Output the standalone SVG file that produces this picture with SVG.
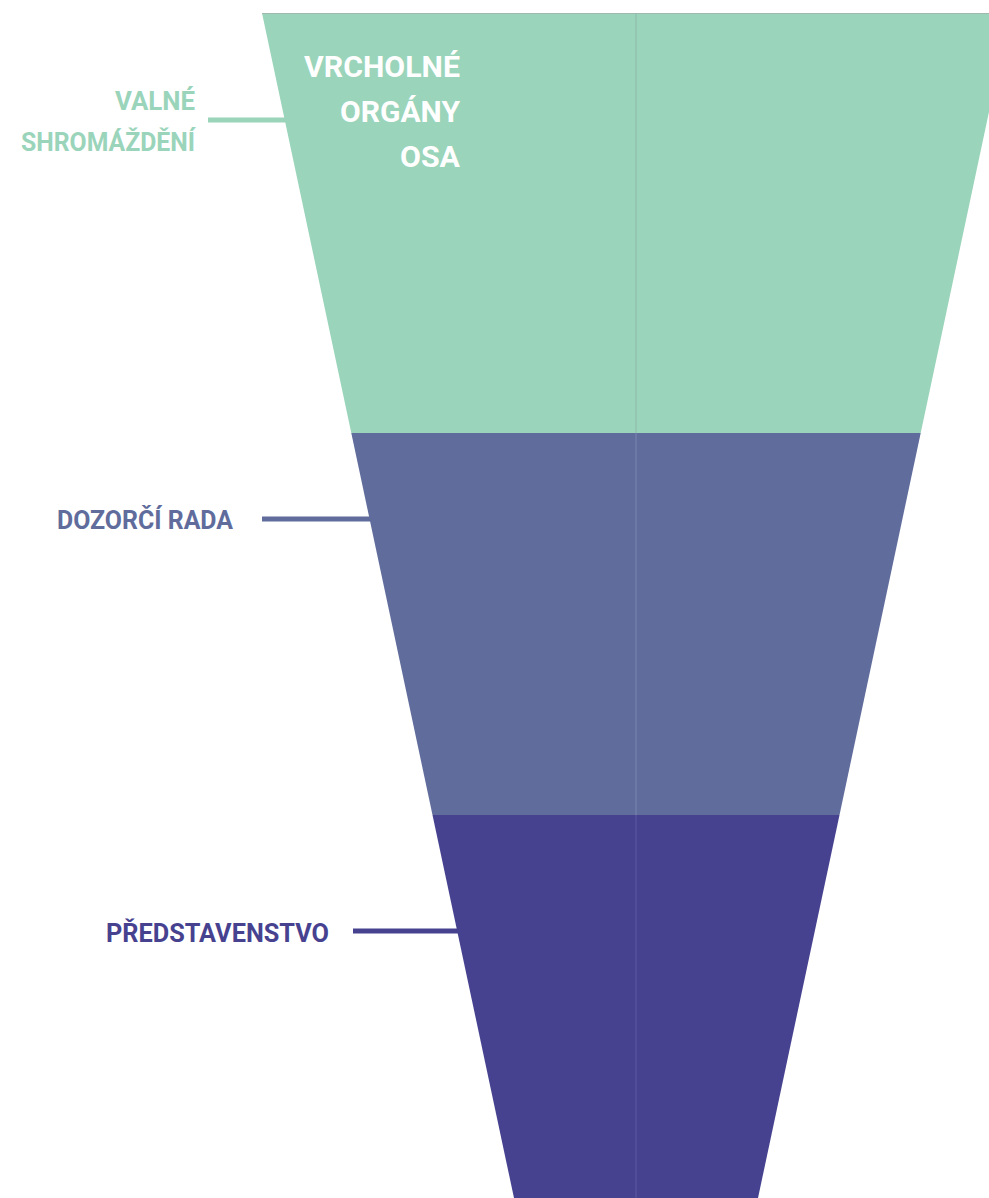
<svg xmlns="http://www.w3.org/2000/svg" width="989" height="1198" viewBox="0 0 989 1198">
<style>
.lbl{font-family:"Roboto","Liberation Sans",sans-serif;font-weight:700;text-anchor:end}
.conn{stroke-width:5;fill:none}
</style>
<rect width="989" height="1198" fill="#ffffff"/>
<g id="connectors">
<line class="conn" x1="208" y1="120" x2="290" y2="120" stroke="#9ad4ba"/>
<line class="conn" x1="262" y1="519" x2="375" y2="519" stroke="#606c9c"/>
<line class="conn" x1="353" y1="931" x2="462" y2="931" stroke="#474290"/>
</g>
<g id="funnel-top">
<polygon points="262,13 1010,13 920.7,433 351.3,433" fill="#9ad4ba"/>
<line x1="262" y1="13.5" x2="1010" y2="13.5" stroke="#9fb8b0" stroke-width="1"/>
<line x1="636" y1="13" x2="636" y2="433" stroke="#8fbdb0" stroke-width="1.2"/>
<text class="lbl" x="460" y="77" font-size="30" fill="#ffffff" textLength="156" lengthAdjust="spacingAndGlyphs">VRCHOLNÉ</text>
<text class="lbl" x="460" y="122" font-size="30" fill="#ffffff" textLength="120" lengthAdjust="spacingAndGlyphs">ORGÁNY</text>
<text class="lbl" x="460" y="167" font-size="30" fill="#ffffff" textLength="60" lengthAdjust="spacingAndGlyphs">OSA</text>
</g>
<g id="funnel-middle">
<polygon points="351.3,433 920.7,433 839.5,815 432.5,815" fill="#606c9c"/>
<line x1="636" y1="433" x2="636" y2="815" stroke="#7682ad" stroke-width="1.2"/>
</g>
<g id="funnel-bottom">
<polygon points="432.5,815 839.5,815 758,1198 514,1198" fill="#474290"/>
<line x1="636" y1="815" x2="636" y2="1198" stroke="#5a58a0" stroke-width="1.2"/>
</g>
<g id="valne-shromazdeni">
<text class="lbl" x="195" y="110" font-size="25" fill="#9ad4ba" textLength="80" lengthAdjust="spacingAndGlyphs">VALNÉ</text>
<text class="lbl" x="195" y="151" font-size="25" fill="#9ad4ba" textLength="174" lengthAdjust="spacingAndGlyphs">SHROMÁŽDĚNÍ</text>
</g>
<g id="dozorci-rada">
<text class="lbl" x="233" y="529" font-size="25" fill="#606c9c" textLength="176" lengthAdjust="spacingAndGlyphs">DOZORČÍ RADA</text>
</g>
<g id="predstavenstvo">
<text class="lbl" x="329" y="942" font-size="25" fill="#474290" textLength="223" lengthAdjust="spacingAndGlyphs">PŘEDSTAVENSTVO</text>
</g>
</svg>
